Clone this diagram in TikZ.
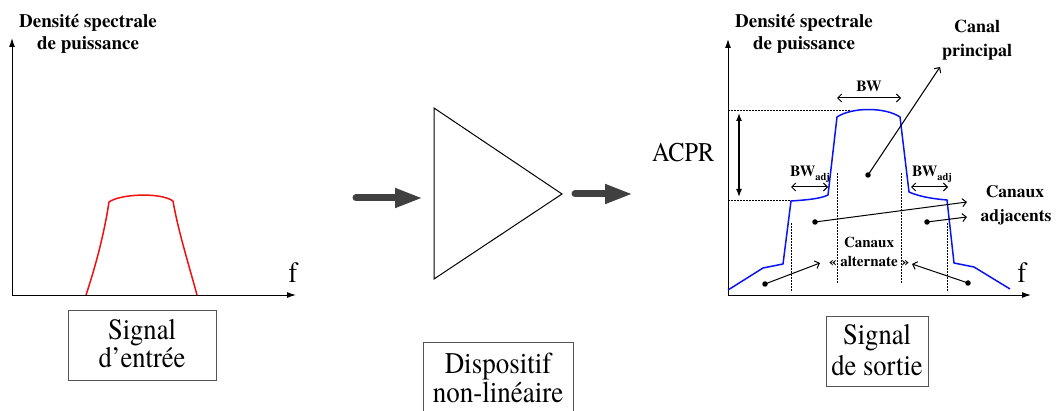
\documentclass[tikz,border=0pt]{standalone}
\usepackage{fontspec}
\setmainfont{texgyretermes}[Extension=.otf, UprightFont=*-regular, BoldFont=*-bold, ItalicFont=*-italic, BoldItalicFont=*-bolditalic]
\newfontfamily\condfont{texgyretermes}[Extension=.otf, UprightFont=*-regular, BoldFont=*-bold, FakeStretch=0.9]
\usetikzlibrary{arrows.meta}
\definecolor{arrowgray}{HTML}{404040}
\definecolor{boxgray}{HTML}{555555}
\definecolor{sigblue}{HTML}{0A14F0}
\definecolor{sigred}{HTML}{F01010}
\newcommand\myfs[1]{\fontsize{#1}{#1}\selectfont}
\begin{document}
\begin{tikzpicture}[x=1pt,y=-1pt,
  lbl/.style={inner sep=0pt, anchor=base},
  axis/.style={line width=1pt, {Latex[length=9pt,width=6pt]}-{Latex[length=9pt,width=6pt]}},
  bigarrow/.style={line width=7pt, draw=arrowgray, line cap=round, -{Triangle[length=28pt,width=18pt]}, arrowgray},
  leader/.style={line width=1pt, -{Straight Barb[length=4pt,width=8pt]}},
  dimline/.style={line width=1pt, {Straight Barb[length=4pt,width=8pt]}-{Straight Barb[length=4pt,width=8pt]}},
  acpr/.style={line width=1.3pt, {Latex[length=8pt,width=6pt]}-{Latex[length=8pt,width=6pt]}},
  guide/.style={line width=0.8pt, dash pattern=on 2pt off 1pt},
  dot/.style={circle, fill=black, inner sep=0pt, minimum size=5.5pt},
  boxed/.style={draw=boxgray, line width=1pt, inner sep=0pt},
  spec/.style={line width=1.5pt, line join=round},
  big/.style={lbl, font=\condfont\myfs{#1}}
]
\useasboundingbox (0,0) rectangle (1056,411);

% ---------- left graph ----------
\coordinate (ly) at (12,38);
\coordinate (lo) at (12,295);
\coordinate (lx) at (296,295);
\draw[axis] (ly) -- (lo) -- (lx);
\node[lbl, font=\myfs{19}\bfseries] (ld1) at (88,28) {Densité spectrale};
\node[lbl, font=\myfs{19}\bfseries] (ld2) at (88,50) {de puissance};
\node[big=29] (lf) at (293,283) {f};
\draw[spec, sigred] (86,295) .. controls (95,268) and (104,235) .. (109,202)
  .. controls (120,194) and (160,192) .. (173,201)
  .. controls (178,230) and (188,262) .. (197,295);

\node[boxed, minimum width=148pt, minimum height=70pt] (inbox) at (142,345) {};
\node[big=29.5] (in1) at (142,339) {Signal};
\node[big=29.5] (in2) at (142,367) {d’entrée};

% ---------- device ----------
\coordinate (tl) at (434,108);
\coordinate (tt) at (562,194);
\coordinate (tb) at (434,279);
\draw[line width=1pt] (tl) -- (tt) -- (tb) -- cycle;
\coordinate (a1s) at (356,198);
\coordinate (a1e) at (423,198);
\coordinate (a2s) at (575,194);
\coordinate (a2e) at (633,194);
\draw[bigarrow] (a1s) -- (a1e);
\draw[bigarrow] (a2s) -- (a2e);

\draw[draw=boxgray, line width=1pt] (423.5,412) -- (423.5,342) -- (573,342) -- (573,412);
\node[big=30] (dv1) at (498,373) {Dispositif};
\node[big=30] (dv2) at (498,402) {non-linéaire};

% ---------- right graph ----------
\coordinate (ry) at (728,39);
\coordinate (ro) at (728,295);
\coordinate (rx) at (1031,295);
\draw[axis] (ry) -- (ro) -- (rx);
\node[lbl, font=\myfs{19}\bfseries] (rd1) at (804,28) {Densité spectrale};
\node[lbl, font=\myfs{19}\bfseries] (rd2) at (804,50) {de puissance};
\node[big=29] (rf) at (1022,283) {f};

% dashed reference lines
\draw[guide] (728,110.5) -- (850,110.5);
\draw[guide] (728,200.5) -- (791,200.5);
\draw[guide] (837,173) -- (837,283);
\draw[guide] (901,173) -- (901,283);
\draw[guide] (791,223) -- (791,292);
\draw[guide] (947.5,223) -- (947.5,292);

% spectrum
\draw[spec, sigblue] (728,290) -- (763,268) -- (783,264) -- (791,201)
  .. controls (805,200) and (820,199) .. (828,195)
  -- (837,117)
  .. controls (852,107) and (885,107) .. (900,117)
  -- (909,192)
  .. controls (920,197) and (935,199) .. (947,200)
  -- (954,263) -- (974,267) -- (1010,289);

% ACPR
\coordinate (ac1) at (739,113);
\coordinate (ac2) at (739,197);
\draw[acpr] (ac1) -- (ac2);
\node[big=27, anchor=base west] (acprl) at (652,162) {ACPR};

% BW
\coordinate (bw1) at (837,98);
\coordinate (bw2) at (901,98);
\draw[dimline] (bw1) -- (bw2);
\node[lbl, font=\myfs{15.5}\bfseries] (bwl) at (869,92) {BW};

\coordinate (bwa1) at (791,187);
\coordinate (bwa2) at (828,187);
\draw[dimline] (bwa1) -- (bwa2);
\node[lbl, font=\myfs{15.5}\bfseries, anchor=base west] (bwal) at (790,177) {BW\raisebox{-4pt}{\myfs{10.5}adj}};
\coordinate (bwb1) at (911,187);
\coordinate (bwb2) at (948,187);
\draw[dimline] (bwb1) -- (bwb2);
\node[lbl, font=\myfs{15.5}\bfseries, anchor=base west] (bwbl) at (912,177) {BW\raisebox{-4pt}{\myfs{10.5}adj}};

% labels
\node[lbl, font=\myfs{18}\bfseries] (cp1) at (977,33) {Canal};
\node[lbl, font=\myfs{18}\bfseries] (cp2) at (977,57) {principal};
\node[lbl, font=\myfs{17.5}\bfseries] (ca1) at (1015,198) {Canaux};
\node[lbl, font=\myfs{17.5}\bfseries] (ca2) at (1016,222) {adjacents};
\node[lbl, font=\myfs{15}\bfseries] (cl1) at (869,248) {Canaux};
\node[lbl, font=\myfs{15}\bfseries] (cl2) at (869,267) {« alternate »};

% dots and leaders
\node[dot] (dp) at (868,175) {};
\coordinate (dpt) at (940,67);
\draw[leader] (dp.center) -- (dpt);
\node[dot] (da1) at (815,222) {};
\coordinate (da1t) at (967,202);
\draw[leader] (da1.center) -- (da1t);
\node[dot] (da2) at (927,222) {};
\coordinate (da2t) at (967,217);
\draw[leader] (da2.center) -- (da2t);
\node[dot] (dl1) at (765,284) {};
\coordinate (dl1t) at (820,263);
\draw[leader] (dl1.center) -- (dl1t);
\node[dot] (dl2) at (968,283) {};
\coordinate (dl2t) at (912,264);
\draw[leader] (dl2.center) -- (dl2t);

% output box
\node[boxed, minimum width=102pt, minimum height=70pt] (outbox) at (877,351) {};
\node[big=29.5] (out1) at (877,344) {Signal};
\node[big=29.5] (out2) at (877,375) {de sortie};
\end{tikzpicture}
\end{document}
